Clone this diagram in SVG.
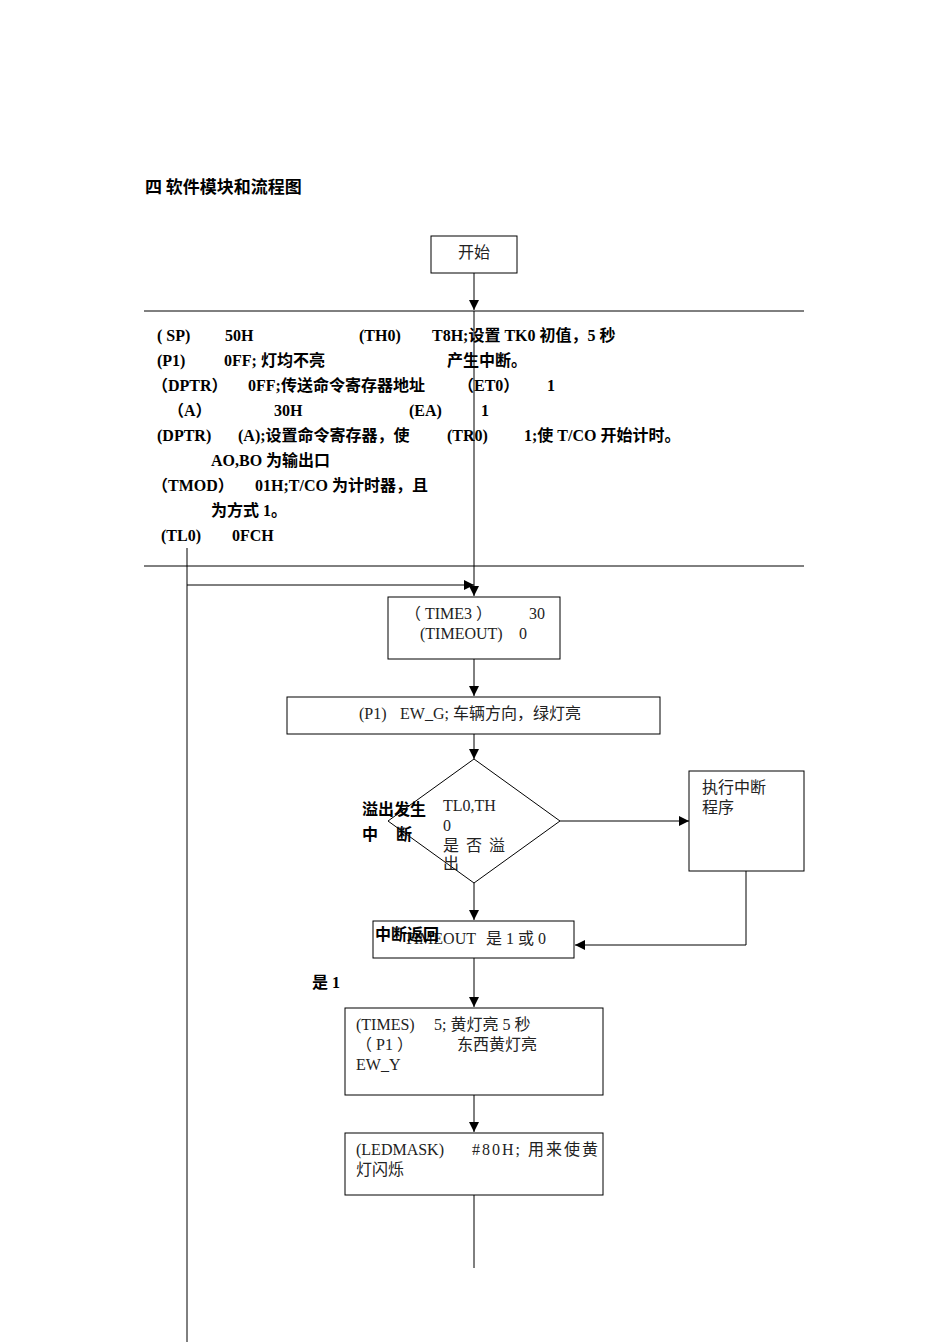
<svg xmlns="http://www.w3.org/2000/svg" width="950" height="1344" viewBox="0 0 950 1344">
<style>
.b{font-family:"Liberation Serif","Noto Sans CJK SC",serif;font-size:16px;font-weight:bold;fill:#000}
.t{font-family:"Liberation Serif","Noto Sans CJK SC",serif;font-size:16px;fill:#222;white-space:pre}
.n{fill:#fff;stroke:#000;stroke-width:1}
.l{stroke:#000;stroke-width:1;fill:none}
</style>
<defs><marker id="a" viewBox="0 0 10 10" refX="10" refY="5" markerWidth="10" markerHeight="10" markerUnits="userSpaceOnUse" orient="auto"><path d="M0,0L10,5L0,10z" fill="#000"/></marker></defs>
<rect width="950" height="1344" fill="#fff"/>
<text class="b" x="145" y="193" style="font-family:'Noto Sans CJK SC',sans-serif;font-size:17px">四 软件模块和流程图</text>
<g id="connectors">
<line class="l" x1="144" y1="311" x2="804" y2="311"/>
<line class="l" x1="144" y1="566" x2="804" y2="566"/>
<line class="l" x1="474" y1="273" x2="474" y2="310" marker-end="url(#a)"/>
<line class="l" x1="474" y1="311" x2="474" y2="596" marker-end="url(#a)"/>
<line class="l" x1="187" y1="548" x2="187" y2="1342"/>
<line class="l" x1="187" y1="585" x2="474" y2="585" marker-end="url(#a)"/>
<line class="l" x1="474" y1="659" x2="474" y2="696" marker-end="url(#a)"/>
<line class="l" x1="474" y1="734" x2="474" y2="759" marker-end="url(#a)"/>
<line class="l" x1="560" y1="821" x2="689" y2="821" marker-end="url(#a)"/>
<line class="l" x1="474" y1="883" x2="474" y2="920" marker-end="url(#a)"/>
<polyline class="l" points="746,871 746,945 575,945" marker-end="url(#a)"/>
<line class="l" x1="474" y1="958" x2="474" y2="1007" marker-end="url(#a)"/>
<line class="l" x1="474" y1="1095" x2="474" y2="1132" marker-end="url(#a)"/>
<line class="l" x1="474" y1="1195" x2="474" y2="1268"/>
</g>
<g id="start"><rect class="n" x="431" y="236" width="86" height="37"/><text class="t" x="474" y="258" text-anchor="middle">开始</text></g>
<g id="init">
<text class="b" x="157" y="341">( SP)</text><text class="b" x="225" y="341">50H</text><text class="b" x="359" y="341">(TH0)</text><text class="b" x="432" y="341">T8H;设置 TK0 初值，5 秒</text>
<text class="b" x="157" y="366">(P1)</text><text class="b" x="224" y="366">0FF; 灯均不亮</text><text class="b" x="447" y="366">产生中断。</text>
<text class="b" x="152" y="391">（DPTR）</text><text class="b" x="248" y="391">0FF;传送命令寄存器地址</text><text class="b" x="458" y="391">（ET0）</text><text class="b" x="547" y="391">1</text>
<text class="b" x="168" y="416">（A）</text><text class="b" x="274" y="416">30H</text><text class="b" x="409" y="416">(EA)</text><text class="b" x="481" y="416">1</text>
<text class="b" x="157" y="441">(DPTR)</text><text class="b" x="238" y="441">(A);设置命令寄存器，使</text><text class="b" x="447" y="441">(TR0)</text><text class="b" x="524" y="441">1;使 T/CO 开始计时。</text>
<text class="b" x="211" y="466">AO,BO 为输出口</text>
<text class="b" x="152" y="491">（TMOD）</text><text class="b" x="255" y="491">01H;T/CO 为计时器，且</text>
<text class="b" x="211" y="516">为方式 1。</text>
<text class="b" x="161" y="541">(TL0)</text><text class="b" x="232" y="541">0FCH</text>
</g>
<g id="time3"><rect class="n" x="388" y="597" width="172" height="62"/><text class="t" x="405" y="619">（ TIME3 ）</text><text class="t" x="529" y="619">30</text><text class="t" x="420" y="639">(TIMEOUT)</text><text class="t" x="519" y="639">0</text></g>
<g id="p1"><rect class="n" x="287" y="697" width="373" height="37"/><text class="t" x="359" y="719">(P1)</text><text class="t" x="400" y="719">EW_G; 车辆方向，绿灯亮</text></g>
<g id="dec"><polygon class="n" points="474,759 560,821 474,883 388,821"/>
<text class="t" x="443" y="811">TL0,TH</text><text class="t" x="443" y="831">0</text><text class="t" x="443" y="851" letter-spacing="7">是否溢</text><text class="t" x="443" y="869">出</text>
<text class="b" x="362" y="815">溢出发生</text><text class="b" x="362" y="840">中</text><text class="b" x="396" y="840">断</text></g>
<g id="isr"><rect class="n" x="689" y="771" width="115" height="100"/><text class="t" x="702" y="793">执行中断</text><text class="t" x="702" y="813">程序</text></g>
<g id="timeout"><rect class="n" x="373" y="921" width="201" height="37"/><text class="t" x="404" y="944">TIMEOUT</text><text class="t" x="486" y="944">是 1 或 0</text><text class="b" x="375" y="940">中断返回</text></g>
<text class="b" x="312" y="988">是 1</text>
<g id="times"><rect class="n" x="345" y="1008" width="258" height="87"/><text class="t" x="356" y="1030">(TIMES)</text><text class="t" x="434" y="1030">5; 黄灯亮 5 秒</text><text class="t" x="356" y="1050">（ P1 ）</text><text class="t" x="457" y="1050">东西黄灯亮</text><text class="t" x="356" y="1070">EW_Y</text></g>
<g id="led"><rect class="n" x="345" y="1133" width="258" height="62"/><text class="t" x="356" y="1155">(LEDMASK)</text><text class="t" x="472" y="1155" letter-spacing="2">#80H; 用来使黄</text><text class="t" x="356" y="1175">灯闪烁</text></g>
</svg>
